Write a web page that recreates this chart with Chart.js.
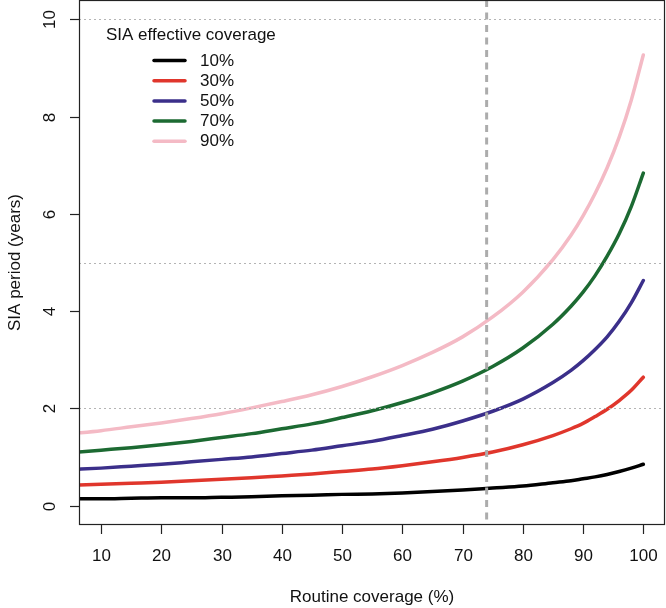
<!DOCTYPE html>
<html>
<head>
<meta charset="utf-8">
<script src="https://cdn.jsdelivr.net/npm/chart.js@4/dist/chart.umd.min.js"></script>
<style>
  html, body { margin: 0; padding: 0; background: #fff; }
  #wrap { width: 666px; height: 608px; }
</style>
</head>
<body>
<div id="wrap"><canvas id="myChart" width="666" height="608"></canvas></div>
<script>
// routine coverage (%) sample points
const coverage = [5, 10, 15, 20, 25, 30, 35, 40, 45, 50, 55, 60, 65, 70, 75, 80, 85, 88, 90, 92, 94, 96, 98, 100];

// SIA period (years), one array per SIA effective coverage
const sia10 = [0.14, 0.14, 0.15, 0.16, 0.16, 0.17, 0.18, 0.20, 0.21, 0.23, 0.24, 0.26, 0.29, 0.32, 0.36, 0.40, 0.47, 0.51, 0.55, 0.59, 0.64, 0.70, 0.77, 0.85];
const sia30 = [0.42, 0.44, 0.46, 0.48, 0.51, 0.54, 0.57, 0.61, 0.65, 0.70, 0.75, 0.82, 0.90, 0.99, 1.10, 1.25, 1.44, 1.58, 1.69, 1.83, 1.98, 2.16, 2.37, 2.64];
const sia50 = [0.74, 0.77, 0.81, 0.85, 0.90, 0.95, 1.00, 1.07, 1.14, 1.23, 1.32, 1.44, 1.57, 1.74, 1.94, 2.19, 2.53, 2.78, 2.98, 3.21, 3.47, 3.79, 4.17, 4.63];
const sia70 = [1.09, 1.14, 1.19, 1.25, 1.32, 1.40, 1.48, 1.58, 1.68, 1.81, 1.95, 2.12, 2.32, 2.56, 2.86, 3.24, 3.73, 4.10, 4.39, 4.73, 5.13, 5.59, 6.15, 6.84];
const sia90 = [1.48, 1.54, 1.62, 1.70, 1.79, 1.89, 2.01, 2.14, 2.28, 2.45, 2.65, 2.88, 3.15, 3.47, 3.88, 4.39, 5.06, 5.56, 5.96, 6.42, 6.95, 7.58, 8.34, 9.27];

const seriesLabels = ["10%", "30%", "50%", "70%", "90%"];
const seriesColors = ["#000000", "#e0362c", "#3b2f8a", "#1c6a32", "#f4bac5"];
const seriesValues = [sia10, sia30, sia50, sia70, sia90];

const xTicks = [10, 20, 30, 40, 50, 60, 70, 80, 90, 100];
const yTicks = [0, 2, 4, 6, 8, 10];
const hLines = [2, 5, 10];
const vLine = 74;

const FONT = '17px "Liberation Sans", Arial, Helvetica, sans-serif';

const refLines = {
  id: "refLines",
  afterDatasetsDraw(chart) {
    const { ctx, chartArea: a, scales: { x, y } } = chart;
    ctx.save();
    ctx.beginPath();
    ctx.rect(a.left, a.top, a.right - a.left, a.bottom - a.top);
    ctx.clip();
    ctx.strokeStyle = "#b4b4b4";
    ctx.lineWidth = 1;
    ctx.setLineDash([2, 3]);
    hLines.forEach(v => {
      const py = Math.round(y.getPixelForValue(v)) + 0.5;
      ctx.beginPath();
      ctx.moveTo(a.left, py);
      ctx.lineTo(a.right, py);
      ctx.stroke();
    });
    ctx.strokeStyle = "#acacac";
    ctx.lineWidth = 3;
    ctx.setLineDash([7, 5.5]);
    const px = x.getPixelForValue(vLine);
    ctx.beginPath();
    ctx.moveTo(px, a.top);
    ctx.lineTo(px, a.bottom);
    ctx.stroke();
    ctx.restore();
  }
};

const rAxes = {
  id: "rAxes",
  afterDraw(chart) {
    const { ctx, chartArea: a, scales: { x, y } } = chart;
    ctx.save();
    ctx.strokeStyle = "#222";
    ctx.lineWidth = 1.2;
    ctx.strokeRect(a.left + 0.5, a.top + 0.5, a.right - a.left - 1, a.bottom - a.top - 1);

    ctx.fillStyle = "#111";
    ctx.font = FONT;
    ctx.textAlign = "center";
    ctx.textBaseline = "middle";

    // x axis
    xTicks.forEach(v => {
      const px = Math.round(x.getPixelForValue(v)) + 0.5;
      ctx.beginPath();
      ctx.moveTo(px, a.bottom);
      ctx.lineTo(px, a.bottom + 9);
      ctx.stroke();
      ctx.fillText(String(v), px, a.bottom + 31);
    });
    ctx.fillText("Routine coverage (%)", (a.left + a.right) / 2, 597);

    // y axis
    yTicks.forEach(v => {
      const py = Math.round(y.getPixelForValue(v)) + 0.5;
      ctx.beginPath();
      ctx.moveTo(a.left - 9, py);
      ctx.lineTo(a.left, py);
      ctx.stroke();
      ctx.save();
      ctx.translate(50, py);
      ctx.rotate(-Math.PI / 2);
      ctx.fillText(String(v), 0, 0);
      ctx.restore();
    });
    ctx.save();
    ctx.translate(15, (a.top + a.bottom) / 2);
    ctx.rotate(-Math.PI / 2);
    ctx.fillText("SIA period (years)", 0, 0);
    ctx.restore();

    // legend
    ctx.textAlign = "left";
    ctx.fillText("SIA effective coverage", 106, 35);
    chart.data.datasets.forEach((ds, i) => {
      const ly = 60.5 + i * 20.2;
      ctx.strokeStyle = ds.borderColor;
      ctx.lineWidth = 3.5;
      ctx.lineCap = "round";
      ctx.beginPath();
      ctx.moveTo(154, ly);
      ctx.lineTo(185, ly);
      ctx.stroke();
      ctx.fillText(ds.label, 200, ly + 0.5);
    });
    ctx.restore();
  }
};

const ctx = document.getElementById("myChart").getContext("2d");
const myChart = new Chart(ctx, {
  type: "line",
  data: {
    datasets: seriesValues.map((vals, i) => ({
      label: seriesLabels[i],
      data: coverage.map((c, j) => ({ x: c, y: vals[j] })),
      borderColor: seriesColors[i],
      borderWidth: 3.5,
      borderCapStyle: "round",
      borderJoinStyle: "round",
      pointRadius: 0,
      cubicInterpolationMode: "monotone",
      clip: 0
    }))
  },
  options: {
    responsive: false,
    animation: false,
    layout: { padding: { left: 79, right: 1, top: 0, bottom: 83 } },
    plugins: { legend: { display: false }, tooltip: { enabled: false } },
    scales: {
      x: { type: "linear", min: 6.35, max: 103.6, display: false },
      y: { min: -0.4, max: 10.4, display: false }
    }
  },
  plugins: [refLines, rAxes]
});
</script>
</body>
</html>
